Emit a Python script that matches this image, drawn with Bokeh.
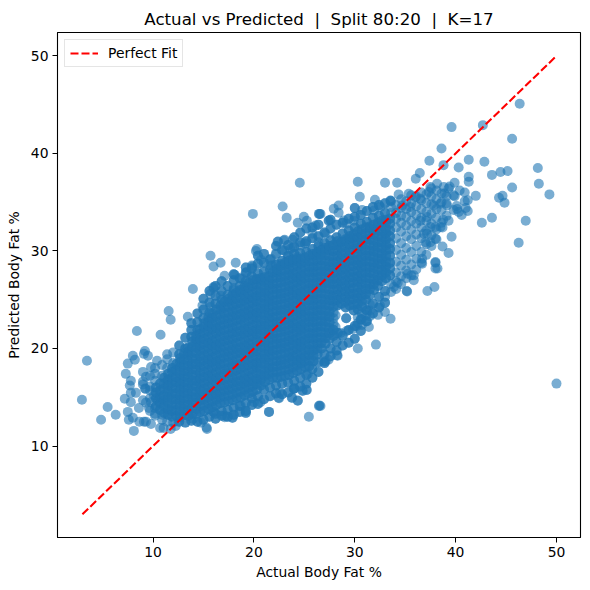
from bokeh.plotting import figure
from bokeh.models import FixedTicker, Legend, LegendItem, Label, ColumnDataSource
from bokeh.embed import file_html
from bokeh.resources import INLINE

# isolated points
edge_actual = [46.35,42.7,39.6,45.6,38.6,37.4,38.8,41.3,42.85,48.15,40.3,36.45,36.05,43.6,44.45,45.15,41.3,41.3,48.25,45.6,49.3,30.3,33.0,34.2,30.5,32.0,34.35,33.55,42.0,44.3,44.65,44.85,41.2,42.6,43.6,46.95,46.25,39.6,38.7,39.3,38.0,38.0,37.9,37.2,35.15,
 50.0,32.1,30.3,28.3,27.4,27.0,26.6,31.4,33.55,32.3,33.0,32.5,33.0,29.15,29.15,
 24.55,22.85,19.9,23.25,24.35,24.95,25.25,26.45,22.35,23.05,23.85,25.05,15.7,20.3,20.2,16.7,16.0,18.2,20.7,21.7,17.1,18.1,13.95,16.0,19.85,21.8,
 11.55,11.75,13.45,8.4,10.75,3.45,2.95,4.85,5.5,6.3,8.1,7.5,7.6,8.0,7.5,8.2,9.2,9.1,9.5,10.4,9.8,7.3,9.3,7.8,7.7,9.2,8.3,7.8,7.2,7.8,9.8,9.3,8.6,8.0,9.1,9.3,8.65,9.8,10.7,11.05,11.75,12.25,15.35,14.75,13.95,16.0,17.1,17.9,19.2,21.5,25.45,26.45,23.75,24.35,23.95,24.85,25.25,22.45,
 40.4,39.9,40.9,40.1,39.4,38.9,41.0,40.6,39.8,40.9,41.2,39.3,38.7,39.9]
edge_predicted = [45.1,42.9,42.7,41.5,40.5,39.25,38.8,39.35,39.15,38.5,38.55,38.0,37.4,37.8,38.1,38.2,37.6,37.1,36.9,36.5,35.8,37.1,37.0,37.0,35.55,35.25,35.8,35.15,35.65,35.45,35.65,34.95,34.1,32.9,33.4,33.1,30.85,31.45,30.45,29.8,28.8,28.2,26.3,25.9,25.9,
 16.4,20.4,20.0,19.25,18.85,18.65,14.1,22.2,23.05,23.45,23.75,24.4,25.3,23.1,23.1,
 37.0,34.55,33.8,33.4,32.9,33.5,33.1,33.8,30.95,31.15,31.15,30.75,29.5,30.2,30.0,28.8,28.4,28.8,29.1,29.2,27.45,27.55,26.1,26.3,28.4,28.5,
 23.85,22.95,23.25,21.8,21.4,18.75,14.75,12.7,14.0,13.2,11.55,13.5,12.7,19.25,18.45,18.85,19.75,19.45,19.25,18.75,18.1,17.4,17.1,16.7,16.2,15.9,15.45,15.45,14.85,14.5,14.5,14.45,13.9,12.9,12.5,12.5,12.5,12.25,11.85,11.85,11.75,12.05,11.75,12.4,12.8,13.5,13.1,12.9,13.4,13.5,13.0,14.1,14.95,14.65,15.85,15.65,15.75,14.95,
 36.2,35.6,35.1,34.6,36.6,35.9,34.4,33.7,34.2,36.0,35.2,33.1,32.4,37.0]

# looser points along the band's edges
lace_actual = [38.0,37.5,38.2,38.0,36.68,36.68,35.85,35.85,35.25,34.26,33.87,35.19,37.0,36.84,37.17,38.76,38.5,38.0,37.5,36.5,37.17,37.83,38.5,39.15,39.8,40.3,40.15,39.3,38.82,38.16,37.5,37.34,36.0,36.5,35.35,34.7,35.5,33.54,32.55,31.9,30.73,28.4,27.92,28.4,28.9,29.18,29.9,27.43,26.6,
 26.5,27.4,26.1,25.8,27.1,22.4,22.97,23.8,24.6,25.1,26.4,19.8,21.65,22.47,23.0,23.4,23.6,24.3,18.84,19.3,16.0,18.0,15.7,16.7,14.9,15.7,
 21.5,19.2,17.85,17.1,15.3,22.5,22.6,24.0,23.8,24.35,24.8,25.2,26.5,27.1,28.25,25.35,20.65,20.0,18.7,16.0,9.26,9.7,10.1,10.5,9.0,9.6,10.2,
 30.3,30.3,30.7,30.7,30.7,31.1,31.1,31.1,31.5,31.5,31.5,28.6,29.2,29.8,30.2,27.9,27.9,27.9,28.1,28.1]
lace_predicted = [31.25,30.9,28.2,28.86,28.7,29.2,27.0,27.5,27.66,26.74,26.3,25.85,30.9,31.76,31.76,33.2,32.45,32.45,32.45,33.1,33.47,34.67,34.84,34.67,35.7,34.0,34.3,36.4,36.55,36.9,36.55,36.04,35.5,35.35,35.87,34.67,34.5,35.18,34.5,34.15,34.2,34.67,34.33,33.92,33.13,32.8,33.1,33.13,33.8,
 33.8,33.1,32.6,31.76,31.76,30.97,31.08,30.3,30.56,30.8,30.9,28.5,28.5,28.7,30.05,29.4,30.2,29.4,27.15,27.8,26.2,26.2,25.6,25.4,24.4,24.25,
 13.5,13.4,12.9,12.95,11.9,14.9,15.5,15.9,14.95,14.67,15.7,15.76,14.15,18.7,19.3,17.4,14.5,14.5,14.15,13.5,15.86,16.1,15.2,14.6,16.6,13.9,13.3,
 22.6,23.2,22.4,23.0,23.6,22.8,23.4,24.0,23.3,23.9,24.5,21.6,21.8,22.0,22.3,22.5,23.1,23.7,22.2,23.4]

# belt of overlapping points around the solid band, column by column
belt_columns = [9.0,9.7,10.2,10.9,11.4,12.0,12.6,13.2,13.8,14.4,15.0,15.6,16.2,16.8,17.4,18.0,18.6,19.2,19.8,20.4,21.0,21.6,22.2,22.8,23.4,24.0,24.6,25.2,25.8,26.4,27.0,27.6,28.2,28.8,29.4,30.0,30.6,31.2,31.8,32.4,33.0,33.6,34.1,34.6,35.1,35.6,36.1,36.6,37.1,37.6,38.1,38.6,39.1]
belt_rows = [
 [14.7,16.3,17.6],[13.6,14.9,15.7,17.2],[13.1,13.9,16.7,17.4,18.0],[12.7,13.2,17.2,18.3],[12.5,18.0,18.9,19.4],
 [12.4,18.5,19.6],[12.5,19.4,20.3],[12.4,20.0,21.1],[12.6,21.2,21.9,22.6],[12.5,21.9,22.7,23.6],
 [12.7,23.1,24.0,25.1],[13.0,23.7,24.7,25.9],[13.3,12.8,24.6,25.4,26.4],[13.6,13.1,25.0,25.9,26.9],[13.7,13.0,25.5,26.4],
 [13.9,13.2,26.0,27.0,27.6],[14.1,13.5,26.4,27.2],[14.4,13.6,26.9,27.8,28.3],[14.9,14.2,27.4,28.2],[15.1,14.3,27.7,28.7,29.5],
 [15.8,14.8,27.9,28.8,29.7],[16.0,15.1,28.1,29.1],[16.2,15.4,28.6,29.7,30.5],[16.4,15.3,29.0,30.1],[16.5,15.5,29.5,30.6],
 [16.7,15.9,29.7,30.4,31.4],[17.0,16.1,29.8,30.9,31.9],[17.3,16.4,29.9,31.0,32.3],[17.9,17.0,30.2,31.3,32.4],[18.6,17.6,30.5,31.5,32.7],
 [19.4,18.5,30.8,31.9],[20.0,19.2,31.1,32.3,33.2],[20.7,19.8,31.4,32.7],[21.3,20.3,31.8,32.9],[21.9,20.6,32.1,33.3],
 [22.3,21.0,32.4,33.5,34.4],[23.0,21.8,32.8,33.7],[23.9,22.8,33.0,34.1],[24.6,23.6,33.4,34.5],[25.3,24.2,33.6,34.7],
 [25.9,24.7,33.9,34.9],[25.8,26.6,33.9,34.5,35.1],[26.1,26.9,27.8,28.9,30.1,31.3,32.4,33.3,33.9,34.7],
 [26.6,27.4,28.5,29.6,30.8,32.0,32.9,33.6,34.4,35.3],[27.2,28.0,29.1,30.3,31.5,32.6,33.5,34.3,35.1],
 [27.5,28.6,29.9,31.2,32.2,33.1,34.0,34.9,35.7],[28.1,29.2,30.5,31.7,32.8,33.7,34.6,35.6],[28.8,29.9,31.3,32.4,33.4,34.3,35.2,36.0],
 [29.6,30.7,32.1,33.1,34.0,34.9,35.8],[30.5,31.6,32.8,33.8,34.8,35.6,36.4],[31.2,32.2,33.4,34.3,35.3,36.2],[32.9,34.2,35.0,35.9],[33.6,34.9,35.6],
]

# dense cloud, estimated column by column; it is drawn in two layers because
# the picture's centre is stacked far too deep for single points to be read
core_columns = [10.3,10.7,11.1,11.5,11.9,12.3,12.7,13.1,13.5,13.9,14.3,14.7,15.1,15.5,15.9,16.3,16.7,17.1,17.5,17.9,18.3,18.7,19.1,19.5,19.9,20.3,20.7,21.1,21.5,21.9,22.3,22.7,23.1,23.5,23.9,24.3,24.7,25.1,25.5,25.9,26.3,26.7,27.1,27.5,27.9,28.3,28.7,29.1,29.5,29.9,30.3,30.7,31.1,31.5,31.9,32.3,32.7,33.1,33.5]
core_rows = [
 [14.1,14.9,15.5,16.0],
 [13.7,14.4,15.0,15.7,16.4],
 [13.4,14.1,14.7,15.2,15.9,16.4,17.0],
 [13.2,13.8,14.4,15.0,15.6,16.2,16.8,17.4],
 [13.0,13.6,14.1,14.8,15.3,15.9,16.5,17.0,17.6,18.0],
 [13.1,13.7,14.3,14.8,15.4,16.0,16.6,17.1,17.8,18.4],
 [13.0,13.5,14.1,14.7,15.2,15.8,16.4,16.9,17.5,18.1,18.6,19.0],
 [13.2,13.8,14.3,14.9,15.5,16.0,16.6,17.2,17.7,18.3,18.9,19.5],
 [13.1,13.6,14.2,14.8,15.3,15.9,16.5,17.0,17.6,18.2,18.7,19.3,19.7,20.1],
 [13.3,13.9,14.5,15.0,15.6,16.2,16.7,17.3,17.9,18.4,19.0,19.6,20.2,20.7],
 [13.3,13.8,14.4,15.0,15.5,16.1,16.7,17.2,17.8,18.4,18.9,19.5,20.1,20.6,21.0,21.3],
 [13.5,14.1,14.7,15.2,15.8,16.4,16.9,17.5,18.1,18.6,19.2,19.8,20.3,20.9,21.5,22.0],
 [13.6,14.2,14.8,15.4,15.9,16.5,17.1,17.6,18.2,18.8,19.3,19.9,20.5,21.0,21.6,22.2,22.6],
 [13.8,14.4,15.0,15.5,16.1,16.7,17.2,17.8,18.4,18.9,19.5,20.1,20.6,21.2,21.8,22.3,22.8,23.2],
 [14.0,14.6,15.2,15.7,16.3,16.9,17.4,18.0,18.6,19.1,19.7,20.3,20.8,21.4,22.0,22.5,23.1,23.6],
 [14.2,14.8,15.3,15.9,16.5,17.0,17.6,18.2,18.7,19.3,19.9,20.4,21.0,21.6,22.1,22.7,23.3,24.0],
 [14.4,15.0,15.5,16.1,16.7,17.2,17.8,18.4,18.9,19.5,20.1,20.6,21.2,21.8,22.3,22.9,23.5,24.0,24.4],
 [14.5,15.1,15.7,16.2,16.8,17.4,17.9,18.5,19.1,19.6,20.2,20.8,21.3,21.9,22.5,23.0,23.6,24.2,24.8],
 [14.6,15.2,15.8,16.3,16.9,17.5,18.0,18.6,19.2,19.7,20.3,20.9,21.4,22.0,22.6,23.1,23.7,24.3,24.8,25.1],
 [14.7,15.3,15.9,16.5,17.0,17.6,18.2,18.7,19.3,19.9,20.4,21.0,21.6,22.1,22.7,23.3,23.8,24.4,25.0,25.5],
 [14.9,15.5,16.1,16.6,17.2,17.8,18.3,18.9,19.5,20.0,20.6,21.2,21.7,22.3,22.9,23.4,24.0,24.6,25.1,25.7],
 [15.0,15.6,16.2,16.7,17.3,17.9,18.4,19.0,19.6,20.1,20.7,21.3,21.8,22.4,23.0,23.5,24.1,24.7,25.2,25.8,26.0],
 [15.2,15.8,16.4,16.9,17.5,18.1,18.6,19.2,19.8,20.3,20.9,21.5,22.0,22.6,23.2,23.7,24.3,24.9,25.4,26.0,26.4],
 [15.4,16.0,16.6,17.1,17.7,18.3,18.8,19.4,20.0,20.5,21.1,21.7,22.2,22.8,23.4,23.9,24.5,25.1,25.6,26.2,26.7],
 [15.6,16.2,16.7,17.3,17.9,18.4,19.0,19.6,20.1,20.7,21.3,21.8,22.4,23.0,23.5,24.1,24.7,25.2,25.8,26.4,27.0],
 [15.8,16.4,16.9,17.5,18.1,18.6,19.2,19.8,20.3,20.9,21.5,22.0,22.6,23.2,23.7,24.3,24.9,25.4,26.0,26.6,27.1],
 [16.2,16.8,17.3,17.9,18.5,19.0,19.6,20.2,20.7,21.3,21.9,22.4,23.0,23.6,24.1,24.7,25.3,25.8,26.4,27.0,27.2],
 [16.6,17.2,17.7,18.3,18.9,19.4,20.0,20.6,21.1,21.7,22.3,22.8,23.4,24.0,24.5,25.1,25.7,26.2,26.8,27.3],
 [16.8,17.4,18.0,18.5,19.1,19.7,20.2,20.8,21.4,21.9,22.5,23.1,23.6,24.2,24.8,25.3,25.9,26.5,27.0,27.4],
 [17.0,17.6,18.1,18.7,19.3,19.8,20.4,21.0,21.5,22.1,22.7,23.2,23.8,24.4,24.9,25.5,26.1,26.6,27.2,27.8],
 [17.0,17.6,18.2,18.7,19.3,19.9,20.5,21.0,21.6,22.2,22.7,23.3,23.9,24.4,25.0,25.6,26.1,26.7,27.3,27.8,28.1],
 [17.1,17.7,18.3,18.8,19.4,20.0,20.5,21.1,21.7,22.2,22.8,23.4,23.9,24.5,25.1,25.6,26.2,26.8,27.3,27.9,28.5],
 [17.2,17.8,18.4,18.9,19.5,20.1,20.6,21.2,21.8,22.3,22.9,23.5,24.0,24.6,25.2,25.7,26.3,26.9,27.4,28.0,28.6,28.8],
 [17.3,17.9,18.5,19.1,19.6,20.2,20.8,21.3,21.9,22.5,23.0,23.6,24.2,24.7,25.3,25.9,26.4,27.0,27.6,28.1,28.7,29.0],
 [17.5,18.1,18.7,19.2,19.8,20.4,20.9,21.5,22.1,22.6,23.2,23.8,24.3,24.9,25.5,26.0,26.6,27.2,27.7,28.3,28.9,29.1],
 [17.7,18.3,18.8,19.4,20.0,20.5,21.1,21.7,22.2,22.8,23.4,23.9,24.5,25.1,25.6,26.2,26.8,27.3,27.9,28.5,29.0,29.2],
 [17.9,18.5,19.0,19.6,20.2,20.7,21.3,21.9,22.4,23.0,23.6,24.1,24.7,25.3,25.8,26.4,27.0,27.5,28.1,28.7,29.2],
 [18.1,18.7,19.2,19.8,20.4,20.9,21.5,22.1,22.6,23.2,23.8,24.3,24.9,25.5,26.0,26.6,27.2,27.7,28.3,28.9,29.3],
 [18.2,18.8,19.4,19.9,20.5,21.1,21.6,22.2,22.8,23.3,23.9,24.5,25.0,25.6,26.2,26.7,27.3,27.9,28.4,29.0,29.5],
 [18.7,19.3,19.8,20.4,21.0,21.5,22.1,22.7,23.2,23.8,24.4,24.9,25.5,26.1,26.6,27.2,27.8,28.3,28.9,29.5,29.7],
 [19.4,20.0,20.5,21.1,21.7,22.2,22.8,23.4,23.9,24.5,25.1,25.6,26.2,26.8,27.3,27.9,28.5,29.0,29.6,29.9],
 [20.0,20.6,21.1,21.7,22.3,22.8,23.4,24.0,24.5,25.1,25.7,26.2,26.8,27.4,27.9,28.5,29.1,29.6,30.1],
 [20.5,21.1,21.6,22.2,22.8,23.3,23.9,24.5,25.0,25.6,26.2,26.7,27.3,27.9,28.4,29.0,29.6,30.1,30.3],
 [21.0,21.6,22.1,22.7,23.3,23.8,24.4,25.0,25.5,26.1,26.7,27.2,27.8,28.4,28.9,29.5,30.1,30.5],
 [21.3,21.9,24.3,24.9,25.4,26.0,26.6,27.1,27.7,28.3,28.8,29.4,30.0,30.6],
 [21.6,24.4,25.0,25.5,26.1,26.7,27.2,27.8,28.4,28.9,29.5,30.1,30.6,31.0],
 [24.6,25.2,25.8,26.3,26.9,27.5,28.0,28.6,29.2,29.7,30.3,30.9],
 [24.2,24.8,25.3,25.9,26.5,27.0,27.6,28.2,28.7,29.3,29.9,30.4,31.0,31.2],
 [24.4,25.0,25.6,26.1,26.7,27.3,27.8,28.4,29.0,29.5,30.1,30.7,31.2,31.5],
 [23.9,24.5,25.1,25.6,26.2,26.8,27.3,27.9,28.5,29.0,29.6,30.2,30.7,31.3,31.7],
 [24.0,24.6,25.2,25.7,26.3,26.9,27.4,28.0,28.6,29.1,29.7,30.3,30.8,31.4,32.0],
 [24.3,24.9,25.4,26.0,26.6,27.1,27.7,28.3,28.8,29.4,30.0,30.5,31.1,31.7,32.2],
 [25.0,25.6,26.1,26.7,27.3,27.8,28.4,29.0,29.5,30.1,30.7,31.2,31.8,32.4],
 [25.5,26.1,26.6,27.2,27.8,28.3,28.9,29.5,30.0,30.6,31.2,31.7,32.3,32.5],
 [26.0,26.6,27.1,27.7,28.3,28.8,29.4,30.0,30.5,31.1,31.7,32.2,32.7],
 [26.4,27.0,27.5,28.1,28.7,29.2,29.8,30.4,30.9,31.5,32.1,32.6,32.9],
 [26.9,27.5,28.0,28.6,29.2,29.7,30.3,30.9,31.4,32.0,32.6,33.1],
 [27.2,27.8,28.4,28.9,29.5,30.1,30.6,31.2,31.8,32.3,32.9,33.2],
 [27.5,28.2,28.8,29.5,30.2,30.8,31.5,32.1,32.8,33.3],
]
perfect_fit = [3, 50]
x_ticks = [10, 20, 30, 40, 50]
y_ticks = [10, 20, 30, 40, 50]
BLUE = "#1f77b4"

actual = list(edge_actual) + list(lace_actual)
predicted = list(edge_predicted) + list(lace_predicted)
layers = ((belt_columns, belt_rows), (belt_columns[6:41], belt_rows[6:41]),
          (core_columns, core_rows), (core_columns, core_rows))
for cols, rows in layers:
    for cx, ys in zip(cols, rows):
        for cy in ys:
            actual.append(cx)
            predicted.append(cy)

p = figure(width=582, height=582, output_backend="svg", toolbar_location=None,
           x_range=(0.53, 52.38), y_range=(0.62, 52.4),
           min_border_left=57, min_border_right=2, min_border_top=32, min_border_bottom=45,
           title="Actual vs Predicted \u00a0|\u00a0 Split 80:20 \u00a0|\u00a0 K=17")
p.grid.visible = False
p.outline_line_color = "black"
p.outline_line_width = 1.1
p.title.align = "center"
p.title.text_font = "DejaVu Sans"
p.title.text_font_size = "16.67px"
p.title.text_font_style = "normal"
p.title.text_color = "black"
p.title.standoff = 8

for ax, ticks, lab in ((p.xaxis[0], x_ticks, "Actual Body Fat %"), (p.yaxis[0], y_ticks, "Predicted Body Fat %")):
    ax.ticker = FixedTicker(ticks=ticks)
    ax.axis_label = lab
    ax.axis_label_text_font = "DejaVu Sans"
    ax.axis_label_text_font_size = "13.9px"
    ax.axis_label_text_font_style = "normal"
    ax.axis_label_text_color = "black"
    ax.major_label_text_font = "DejaVu Sans"
    ax.major_label_text_font_size = "13.9px"
    ax.major_label_text_color = "black"
    ax.major_tick_in = 0
    ax.major_tick_out = 5
    ax.minor_tick_line_color = None
    ax.axis_line_color = "black"
p.xaxis[0].axis_label_standoff = 4
p.xaxis[0].major_label_standoff = 4
p.yaxis[0].axis_label_standoff = 6
p.yaxis[0].major_label_standoff = 4

src = ColumnDataSource(dict(x=actual, y=predicted))
p.scatter("x", "y", source=src, size=10, marker="circle", fill_color=BLUE, line_color=None,
          fill_alpha=0.6)
fit = p.line(perfect_fit, perfect_fit, line_color="red", line_width=2.08, line_dash="8 3")

legend = Legend(items=[LegendItem(label="Perfect Fit", renderers=[fit])], location="top_left",
                label_text_font="DejaVu Sans", label_text_font_size="13.9px", label_text_color="black",
                border_line_color="#cccccc", border_line_width=1.1, background_fill_alpha=0.8,
                glyph_width=28, glyph_height=14, label_standoff=10,
                margin=7, padding=5, spacing=0, label_height=15)
p.add_layout(legend)

p.add_layout(Label(x=258, y=566, x_units="canvas", y_units="canvas", text="مستقل",
                   text_font="DejaVu Sans", text_font_size="22px", text_color="#888888",
                   text_alpha=0.18, text_font_style="bold"))

open("out.html", "w").write(file_html(p, INLINE))
